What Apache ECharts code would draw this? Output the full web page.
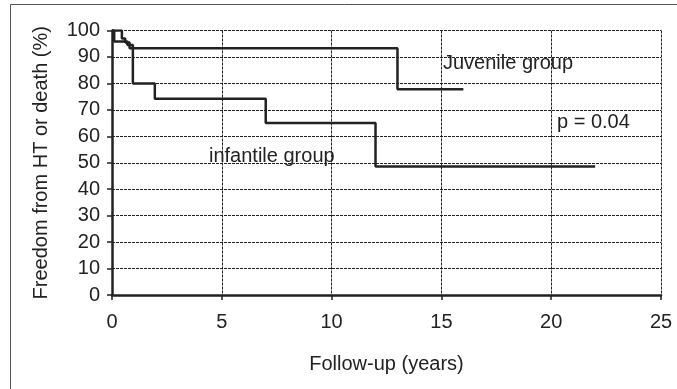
<!DOCTYPE html>
<html>
<head>
<meta charset="utf-8">
<script src="https://cdn.jsdelivr.net/npm/echarts@6/dist/echarts.min.js"></script>
<style>
html,body{margin:0;padding:0;background:#fff;}
#c{width:677px;height:389px;}
</style>
</head>
<body>
<div id="c"></div>
<script>
var juvenileTimes = [0, 0.45, 0.6, 0.8, 13, 16];
var juvenileValues = [100, 97, 95.5, 93.3, 77.8, 77.8];
var infantileTimes = [0, 0.1, 0.7, 0.95, 1.95, 7, 12, 22];
var infantileValues = [100, 95.8, 94.5, 80, 74.2, 65, 48.6, 48.6];
var xTicks = [0, 5, 10, 15, 20, 25];
var yTicks = [0, 10, 20, 30, 40, 50, 60, 70, 80, 90, 100];
var labels = ['Juvenile group', 'infantile group', 'p = 0.04'];

function pairs(t, v) { return t.map(function (x, i) { return [x, v[i]]; }); }

var font = 'Liberation Sans, Arial, sans-serif';
var chart = echarts.init(document.getElementById('c'));
chart.setOption({
  animation: false,
  backgroundColor: '#fff',
  grid: { left: 112, right: 16, top: 30.5, bottom: 94, containLabel: false },
  xAxis: {
    type: 'value', min: xTicks[0], max: xTicks[xTicks.length - 1], interval: 5,
    name: 'Follow-up (years)', nameLocation: 'middle', nameGap: 59,
    nameTextStyle: { fontFamily: font, fontSize: 20, color: '#222' },
    axisLine: { show: true, onZero: false, lineStyle: { color: '#222', width: 2.5 } },
    axisTick: { show: true, inside: false, length: 5, lineStyle: { color: '#222', width: 1.5 } },
    axisLabel: { fontFamily: font, fontSize: 20, color: '#222', margin: 17 },
    splitLine: { show: true, lineStyle: { color: '#222', width: 1, type: [3, 1] } }
  },
  yAxis: {
    type: 'value', min: yTicks[0], max: yTicks[yTicks.length - 1], interval: 10,
    name: 'Freedom from HT or death (%)', nameLocation: 'middle', nameGap: 61,
    nameTextStyle: { fontFamily: font, fontSize: 20, color: '#222' },
    axisLine: { show: true, lineStyle: { color: '#222', width: 2.5 } },
    axisTick: { show: true, inside: false, length: 5, lineStyle: { color: '#222', width: 1.5 } },
    axisLabel: { fontFamily: font, fontSize: 20, color: '#222', margin: 12 },
    splitLine: { show: true, lineStyle: { color: '#222', width: 1, type: [3, 1] } }
  },
  graphic: [
    { type: 'rect', shape: { x: 10.5, y: 4.5, width: 700, height: 400 }, style: { fill: 'none', stroke: '#555', lineWidth: 1 }, z: 0, silent: true },
    { type: 'text', left: 443, top: 53, style: { text: labels[0], font: '20px ' + font, fill: '#222' }, z: 10 },
    { type: 'text', left: 209, top: 146, style: { text: labels[1], font: '20px ' + font, fill: '#222' }, z: 10 },
    { type: 'text', left: 557, top: 112, style: { text: labels[2], font: '20px ' + font, fill: '#222' }, z: 10 }
  ],
  series: [
    {
      name: 'Juvenile group', type: 'line', step: 'end', symbol: 'none',
      data: pairs(juvenileTimes, juvenileValues),
      lineStyle: { color: '#222', width: 2.5 }, z: 5
    },
    {
      name: 'infantile group', type: 'line', step: 'end', symbol: 'none',
      data: pairs(infantileTimes, infantileValues),
      lineStyle: { color: '#222', width: 2.5 }, z: 5
    }
  ]
});
</script>
</body>
</html>
